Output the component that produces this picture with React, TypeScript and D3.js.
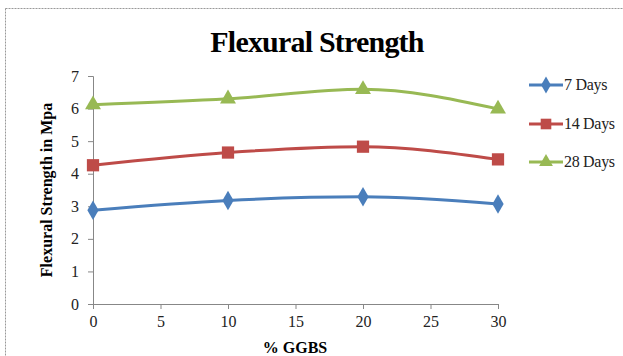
import { useEffect, useRef } from "react";
import * as d3 from "d3";

const ggbs = [0, 10, 20, 30];
const days7 = [2.88, 3.18, 3.29, 3.07];
const days14 = [4.26, 4.65, 4.83, 4.44];
const days28 = [6.12, 6.3, 6.59, 5.99];
const seriesNames = ["7 Days", "14 Days", "28 Days"];
const colors = ["#4a7ebb", "#be4b48", "#98b954"];
const xTicks = [0, 5, 10, 15, 20, 25, 30];
const yTicks = [0, 1, 2, 3, 4, 5, 6, 7];

const W = 623, H = 356;
const serif = "Liberation Serif";

export default function App() {
  const ref = useRef<SVGSVGElement>(null);

  useEffect(() => {
    const svg = d3.select(ref.current);
    svg.selectAll("*").remove();

    // frame
    svg.append("rect")
      .attr("x", 5.5).attr("y", 8.5)
      .attr("width", W).attr("height", H)
      .attr("fill", "white")
      .attr("stroke", "#999").attr("stroke-dasharray", "2,1");

    const x = d3.scaleLinear().domain([0, 30]).range([93, 498]);
    const y = d3.scaleLinear().domain([0, 7]).range([304, 76]);

    svg.append("text")
      .attr("x", 317).attr("y", 52)
      .attr("text-anchor", "middle")
      .attr("font-family", serif).attr("font-weight", "bold")
      .attr("font-size", 30).attr("letter-spacing", -0.8)
      .text("Flexural Strength");

    const yAxis = svg.append("g")
      .attr("transform", `translate(${x(0)},0)`)
      .call(d3.axisLeft(y).tickValues(yTicks).tickFormat(d3.format("d")).tickSize(5).tickPadding(9));
    const xAxis = svg.append("g")
      .attr("transform", `translate(0,${y(0)})`)
      .call(d3.axisBottom(x).tickValues(xTicks).tickFormat(d3.format("d")).tickSize(5).tickPadding(7));
    for (const g of [xAxis, yAxis]) {
      g.attr("font-family", serif).attr("font-size", 16);
      g.select(".domain").attr("stroke", "#878787");
      g.selectAll(".tick line").attr("stroke", "#878787");
      g.selectAll(".tick text")
        .attr("font-family", serif).attr("font-size", 16).attr("fill", "#222");
    }

    svg.append("text")
      .attr("x", 295).attr("y", 353)
      .attr("text-anchor", "middle")
      .attr("font-family", serif).attr("font-weight", "bold").attr("font-size", 16)
      .text("% GGBS");

    svg.append("text")
      .attr("transform", `translate(52,190) rotate(-90)`)
      .attr("text-anchor", "middle")
      .attr("font-family", serif).attr("font-weight", "bold").attr("font-size", 16)
      .text("Flexural  Strength in Mpa");

    const lineGen = d3.line<[number, number]>()
      .x(d => x(d[0])).y(d => y(d[1]))
      .curve(d3.curveMonotoneX);

    const all = [days7, days14, days28];
    const symbols = [d3.symbolDiamond, d3.symbolSquare, d3.symbolTriangle];
    const sizes = [110, 150, 110];

    all.forEach((vals, i) => {
      const pts = ggbs.map((g, j) => [g, vals[j]] as [number, number]);
      svg.append("path")
        .attr("d", lineGen(pts))
        .attr("fill", "none")
        .attr("stroke", colors[i])
        .attr("stroke-width", 3);
      svg.selectAll(null).data(pts).enter().append("path")
        .attr("transform", d => `translate(${x(d[0])},${y(d[1])})`)
        .attr("d", d3.symbol().type(symbols[i]).size(sizes[i]))
        .attr("fill", colors[i]);
    });

    const legendY = [85, 124, 162];
    seriesNames.forEach((name, i) => {
      const lg = svg.append("g").attr("transform", `translate(529,${legendY[i]})`);
      lg.append("line").attr("x1", 0).attr("x2", 34)
        .attr("stroke", colors[i]).attr("stroke-width", 3);
      lg.append("path")
        .attr("transform", "translate(17,0)")
        .attr("d", d3.symbol().type(symbols[i]).size(sizes[i] * 0.75))
        .attr("fill", colors[i]);
      lg.append("text")
        .attr("x", 35).attr("y", 5)
        .attr("font-family", serif).attr("font-size", 16).attr("fill", "#222")
        .attr("letter-spacing", -0.3)
        .text(name);
    });
  }, []);

  return (
    <svg ref={ref} width={W} height={H}
      style={{ position: "absolute", left: 0, top: 0, background: "white" }} />
  );
}
